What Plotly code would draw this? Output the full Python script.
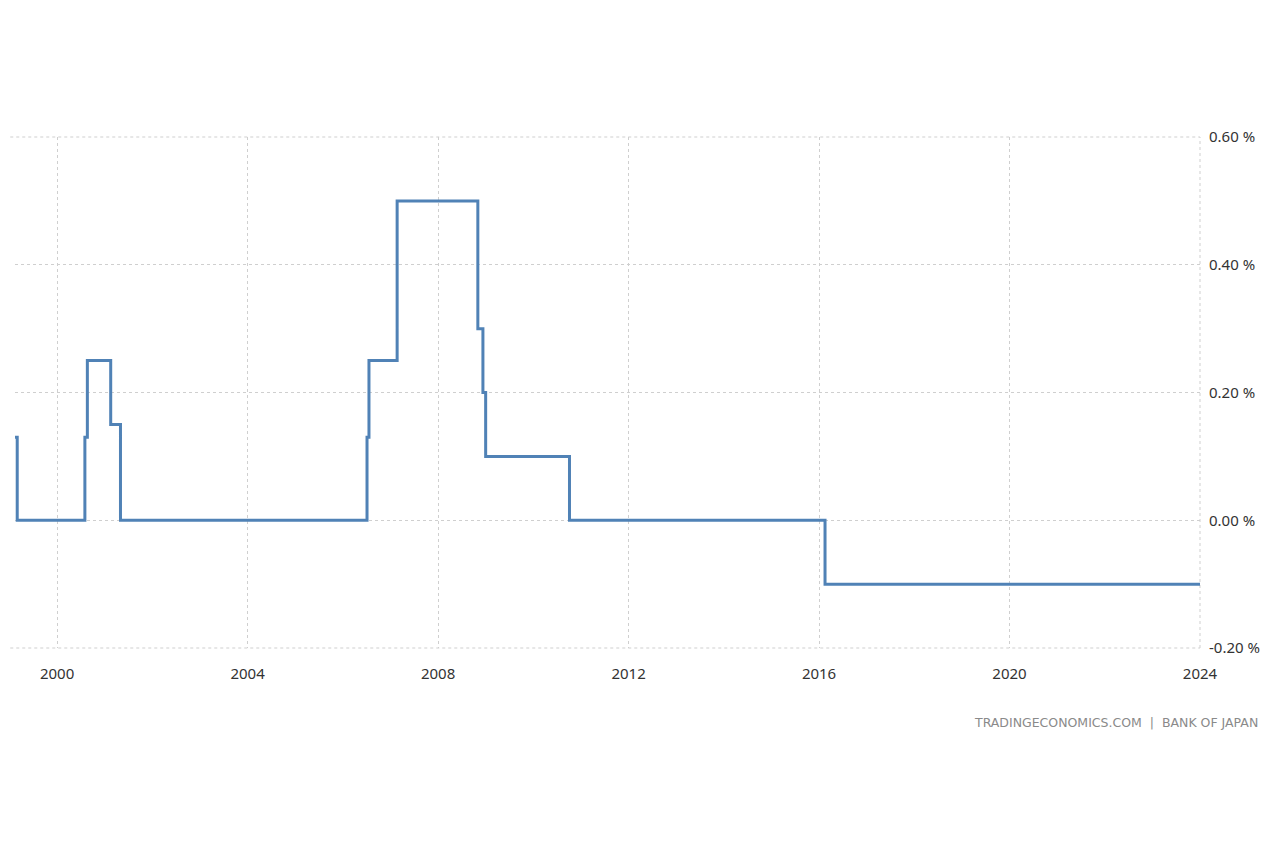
import plotly.graph_objects as go

dates = [
    "1999-02-12", "1999-03-01", "2000-08-01", "2000-08-20", "2001-02-15",
    "2001-05-01", "2006-07-05", "2006-07-20", "2007-02-21", "2008-11-01",
    "2008-12-10", "2008-12-31", "2010-10-05", "2016-02-16", "2024-01-01",
]
rates = [
    0.13, 0.00, 0.13, 0.25, 0.15,
    0.00, 0.13, 0.25, 0.50, 0.30,
    0.20, 0.10, 0.00, -0.10, -0.10,
]
x_ticks = ["2000-01-01", "2004-01-01", "2008-01-01", "2012-01-01",
           "2016-01-01", "2020-01-01", "2024-01-01"]
x_tick_labels = ["2000", "2004", "2008", "2012", "2016", "2020", "2024"]
y_ticks = [-0.2, 0.0, 0.2, 0.4, 0.6]
y_tick_labels = ["-0.20 %", "0.00 %", "0.20 %", "0.40 %", "0.60 %"]

fig = go.Figure()
fig.add_trace(go.Scatter(
    x=dates, y=rates, mode="lines", line_shape="hv",
    line=dict(color="#5082b6", width=3), hoverinfo="x+y",
))

grid_color = "#cfcfcf"
fig.update_layout(
    width=1280, height=853,
    paper_bgcolor="white", plot_bgcolor="white",
    margin=dict(l=15, r=80, t=137, b=205),
    showlegend=False,
    font=dict(family="Noto Sans", color="#333333", size=15),
    xaxis=dict(
        range=["1999-02-12", "2024-01-01"],
        tickvals=x_ticks, ticktext=x_tick_labels,
        showgrid=True, gridcolor=grid_color, griddash="dot", gridwidth=1,
        zeroline=False, showline=False,
        ticks="outside", ticklen=12, tickcolor="rgba(0,0,0,0)",
        tickfont=dict(size=15, color="#333333"),
    ),
    yaxis=dict(
        range=[-0.2, 0.6], side="right",
        tickvals=y_ticks, ticktext=y_tick_labels,
        showgrid=True, gridcolor=grid_color, griddash="dot", gridwidth=1,
        zeroline=False, showline=False,
        ticks="outside", ticklen=5, tickcolor="rgba(0,0,0,0)",
        tickfont=dict(size=15, color="#333333"),
    ),
    annotations=[dict(
        text="TRADINGECONOMICS.COM  |  BANK OF JAPAN",
        xref="paper", yref="paper", x=1.051, y=-0.145,
        xanchor="right", yanchor="middle", showarrow=False,
        font=dict(size=12.5, color="#8a8a8a", family="DejaVu Sans"),
    )],
)
border = dict(color=grid_color, width=1, dash="dot")
fig.add_shape(type="line", xref="paper", yref="paper", x0=1, x1=1, y0=0, y1=1,
              line=border, layer="below")
fig.add_shape(type="line", xref="paper", yref="paper", x0=-0.004, x1=1, y0=1, y1=1,
              line=border, layer="below")
fig.add_shape(type="line", xref="paper", yref="paper", x0=-0.004, x1=1, y0=0, y1=0,
              line=border, layer="below")
fig.write_html("out.html")
